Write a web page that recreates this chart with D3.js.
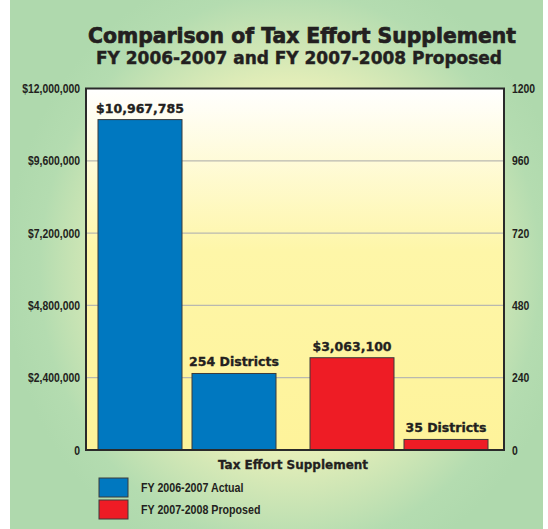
<!DOCTYPE html>
<html><head><meta charset="utf-8">
<script src="https://cdn.jsdelivr.net/npm/d3@7"></script>
<style>
html,body{margin:0;padding:0;background:#fff;}
svg{display:block;}
</style></head>
<body>
<script>
const title = "Comparison of Tax Effort Supplement";
const subtitle = "FY 2006-2007 and FY 2007-2008 Proposed";
const xTitle = "Tax Effort Supplement";
const groups = ["FY 2006-2007 Actual", "FY 2007-2008 Proposed"];
const colors = ["#0078c0", "#ee1c25"];
const amounts = [10967785, 3063100];
const districts = [254, 35];
const amountLabels = ["$10,967,785", "$3,063,100"];
const districtLabels = ["254 Districts", "35 Districts"];
const leftTicks = [0, 2400000, 4800000, 7200000, 9600000, 12000000];
const leftTickLabels = ["0", "$2,400,000", "$4,800,000", "$7,200,000", "$9,600,000", "$12,000,000"];
const rightTicks = [0, 240, 480, 720, 960, 1200];
const measures = ["amount", "districts"];

const W = 548, H = 529;
const svg = d3.select("body").append("svg").attr("width", W).attr("height", H);
const defs = svg.append("defs");

const bg = defs.append("radialGradient").attr("id", "bg")
  .attr("gradientUnits", "userSpaceOnUse")
  .attr("cx", 290).attr("cy", 270).attr("r", 300)
  .attr("gradientTransform", "translate(290,270) scale(0.95,1.05) translate(-290,-270)");
bg.append("stop").attr("offset", "0").attr("stop-color", "#fffbc2");
bg.append("stop").attr("offset", "0.45").attr("stop-color", "#fcf7bc");
bg.append("stop").attr("offset", "0.68").attr("stop-color", "#d4e8b6");
bg.append("stop").attr("offset", "0.88").attr("stop-color", "#b4dcb0");
bg.append("stop").attr("offset", "1").attr("stop-color", "#afd9ad");

const pg = defs.append("linearGradient").attr("id", "pg").attr("x1", 0).attr("y1", 0).attr("x2", 0).attr("y2", 1);
pg.append("stop").attr("offset", "0").attr("stop-color", "#ffffff");
pg.append("stop").attr("offset", "0.45").attr("stop-color", "#fef6a8");
pg.append("stop").attr("offset", "1").attr("stop-color", "#fef39a");

svg.append("rect").attr("x", 10).attr("y", 0).attr("width", 533).attr("height", 529).attr("fill", "url(#bg)");

const plot = {left: 86, right: 504, top: 88.5, bottom: 450};
const yL = d3.scaleLinear().domain([0, 12000000]).range([plot.bottom, plot.top]);
const yR = d3.scaleLinear().domain([0, 1200]).range([plot.bottom, plot.top]);
const xG = d3.scaleBand().domain(groups).range([98, 488]).paddingInner(34 / 212).paddingOuter(0);
const xM = d3.scaleBand().domain(measures).range([0, xG.bandwidth()]).paddingInner(10 / 94).paddingOuter(0);

svg.append("rect").attr("x", plot.left).attr("y", plot.top)
  .attr("width", plot.right - plot.left).attr("height", plot.bottom - plot.top)
  .attr("fill", "url(#pg)");

svg.append("g").selectAll("line").data(leftTicks.slice(1, -1)).join("line")
  .attr("x1", plot.left).attr("x2", plot.right)
  .attr("y1", d => yL(d)).attr("y2", d => yL(d))
  .attr("stroke", "#b9b9b0").attr("stroke-width", 1.2);

const labelFont = "'Liberation Sans', 'Arial', sans-serif";
const heavyFont = "'DejaVu Sans', sans-serif";

function condense(sel, factor) {
  sel.each(function () {
    const w = this.getComputedTextLength();
    d3.select(this).attr("textLength", w * factor).attr("lengthAdjust", "spacingAndGlyphs");
  });
}
// choose a font size whose natural width is near the target, then trim the rest
function fitTo(sel, target) {
  sel.each(function () {
    const el = d3.select(this);
    const fs = +el.attr("font-size");
    const w = this.getComputedTextLength();
    el.attr("font-size", fs * (target * 1.02) / w);
    el.attr("textLength", target).attr("lengthAdjust", "spacingAndGlyphs");
  });
}

const rows = [];
groups.forEach((g, i) => {
  rows.push({g, m: "amount", y: yL(amounts[i]), label: amountLabels[i], color: colors[i]});
  rows.push({g, m: "districts", y: yR(districts[i]), label: districtLabels[i], color: colors[i]});
});
const barG = svg.append("g");
barG.selectAll("rect").data(rows).join("rect")
  .attr("x", d => xG(d.g) + xM(d.m))
  .attr("width", xM.bandwidth())
  .attr("y", d => d.y)
  .attr("height", d => plot.bottom - d.y)
  .attr("fill", d => d.color)
  .attr("stroke", "#3a3a3a").attr("stroke-width", 1);
barG.selectAll("text").data(rows).join("text")
  .attr("x", d => xG(d.g) + xM(d.m) + xM.bandwidth() / 2)
  .attr("y", d => d.y - 7)
  .attr("text-anchor", "middle")
  .attr("font-family", heavyFont).attr("font-weight", "bold")
  .attr("font-size", 12.5).attr("fill", "#231f20")
  .attr("stroke", "#231f20").attr("stroke-width", 0.35)
  .text(d => d.label);

svg.append("rect").attr("x", plot.left).attr("y", plot.top)
  .attr("width", plot.right - plot.left).attr("height", plot.bottom - plot.top)
  .attr("fill", "none").attr("stroke", "#2a2a2a").attr("stroke-width", 2);

const axL = d3.axisLeft(yL).tickValues(leftTicks).tickSize(0).tickPadding(6)
  .tickFormat((d, i) => leftTickLabels[i]);
const gL = svg.append("g").attr("transform", `translate(${plot.left},0)`).call(axL);
const axR = d3.axisRight(yR).tickValues(rightTicks).tickSize(0).tickPadding(8)
  .tickFormat(d3.format("d"));
const gR = svg.append("g").attr("transform", `translate(${plot.right},0)`).call(axR);
[gL, gR].forEach(g => {
  g.select(".domain").remove();
  g.selectAll("text").attr("font-family", labelFont).attr("font-weight", "bold")
    .attr("font-size", 13).attr("fill", "#231f20");
  condense(g.selectAll("text"), 0.8);
});

const t1 = svg.append("text").attr("x", 302).attr("y", 43).attr("text-anchor", "middle")
  .attr("font-family", heavyFont).attr("font-weight", "bold").attr("font-size", 22)
  .attr("fill", "#231f20").attr("stroke", "#231f20").attr("stroke-width", 0.7).text(title);
fitTo(t1, 428);
const t2 = svg.append("text").attr("x", 299).attr("y", 64).attr("text-anchor", "middle")
  .attr("font-family", heavyFont).attr("font-weight", "bold").attr("font-size", 17)
  .attr("fill", "#231f20").attr("stroke", "#231f20").attr("stroke-width", 0.45).text(subtitle);
fitTo(t2, 406);
svg.append("text").attr("x", 293).attr("y", 469).attr("text-anchor", "middle")
  .attr("font-family", heavyFont).attr("font-weight", "bold").attr("font-size", 12)
  .attr("fill", "#231f20").attr("stroke", "#231f20").attr("stroke-width", 0.3).text(xTitle);

const leg = svg.append("g").selectAll("g").data(groups).join("g")
  .attr("transform", (d, i) => `translate(99,${478 + i * 22})`);
leg.append("rect").attr("width", 29).attr("height", 19)
  .attr("fill", (d, i) => colors[i]).attr("stroke", "#3a3a3a").attr("stroke-width", 1);
const lt = leg.append("text").attr("x", 42).attr("y", 14)
  .attr("font-family", labelFont).attr("font-weight", "bold").attr("font-size", 13)
  .attr("fill", "#231f20").text(d => d);
condense(lt, 0.82);
</script>
</body></html>
